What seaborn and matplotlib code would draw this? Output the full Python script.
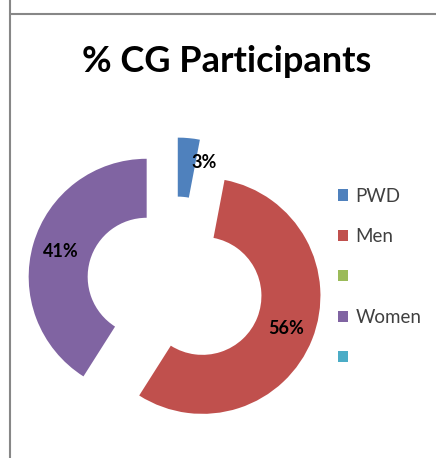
import numpy as np
import matplotlib
matplotlib.use("Agg")
import matplotlib.pyplot as plt
from matplotlib.lines import Line2D
import seaborn as sns

# data
categories = ["PWD", "Men", "", "Women", ""]
shares = [3, 56, 0, 41, 0]
colors = ["#4F81BD", "#C0504D", "#9BBB59", "#8064A2", "#4BACC6"]

sns.set_theme(style="white")
plt.rcParams['font.family'] = ['Lato', 'DejaVu Sans']

W, H = 436, 458
fig = plt.figure(figsize=(W / 100, H / 100), dpi=100)

# pie centre and radius in pixels, axes covers whole figure (1 unit = R px)
cx, cy, R = 175, 285, 118
ax = fig.add_axes([0, 0, 1, 1])

palette = sns.color_palette(colors)
explode = [0.25] * len(shares)


def fmt(p):
    return f"{p:.0f}%" if p > 0.5 else ""


wedges, texts, autotexts = ax.pie(
    shares, colors=palette, explode=explode, startangle=90, counterclock=False,
    radius=1, wedgeprops=dict(width=0.5, linewidth=0), autopct=fmt,
    pctdistance=0.76, textprops=dict(fontsize=13, fontweight="bold", color="black"))

ax.set_aspect("auto")
ax.set_xlim(-cx / R, (W - cx) / R)
ax.set_ylim(-(H - cy) / R, cy / R)
ax.axis("off")

# the small PWD label does not fit inside its wedge: put it to the right of it
w = wedges[0]
ang = np.deg2rad(w.theta2)
cxw, cyw = w.center
yl = cyw + 0.8
xl = cxw + 0.8 / np.tan(ang)
autotexts[0].set_position((xl + 0.12, yl - 0.01))
autotexts[0].set_ha("left")

fig.text(227 / W, 1 - 62 / H, "% CG Participants", ha="center", va="center",
         fontsize=26, fontweight="bold", color="black")

leg = fig.legend(wedges, categories, loc="upper left",
                 bbox_to_anchor=(330 / W, 1 - 180 / H), frameon=False,
                 fontsize=13.5, handlelength=0.55, handleheight=0.55,
                 handletextpad=0.4, labelspacing=1.25, borderaxespad=0)
for t in leg.get_texts():
    t.set_color("#404040")

# chart frame lines (left and top)
fig.add_artist(Line2D([9.5 / W, 9.5 / W], [0, 1], color="#878787", linewidth=1.5,
                      transform=fig.transFigure))
fig.add_artist(Line2D([9.5 / W, 1], [1 - 13.5 / H, 1 - 13.5 / H], color="#878787",
                      linewidth=1.5, transform=fig.transFigure))

fig.savefig("out.png", dpi=100)
